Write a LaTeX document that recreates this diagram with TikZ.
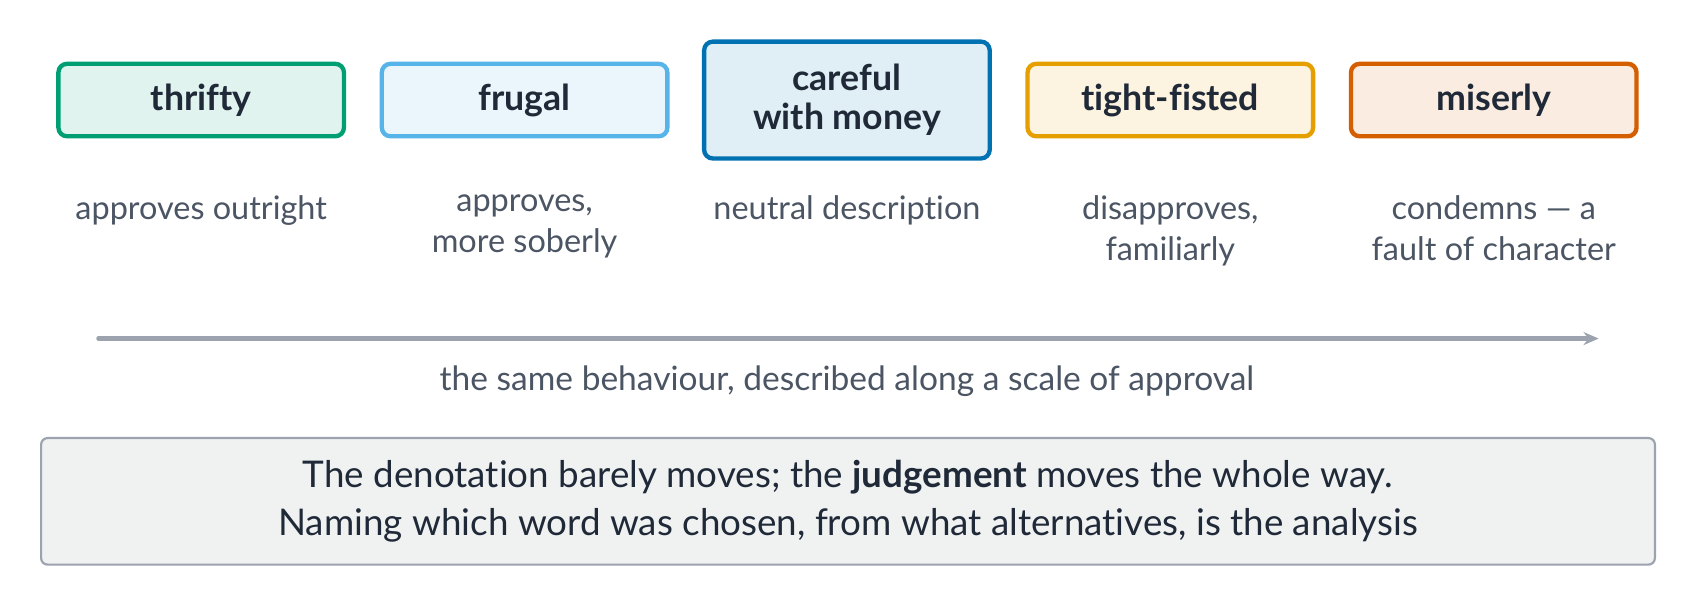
\documentclass[tikz,border=0pt]{standalone}
\usepackage{fontspec}
\setmainfont{Lato}[Ligatures={NoCommon}]
\usetikzlibrary{arrows.meta}
\definecolor{cgreen}{HTML}{009E73}
\definecolor{csky}{HTML}{56B4E9}
\definecolor{cblue}{HTML}{0072B2}
\definecolor{corange}{HTML}{E69F00}
\definecolor{cverm}{HTML}{D55E00}
\definecolor{ink}{HTML}{1F2937}
\definecolor{muted}{HTML}{4B5563}
\definecolor{rule}{HTML}{9CA3AF}
\definecolor{panel}{HTML}{F0F2F2}
\tikzset{
  word/.style={draw=#1, fill=#1!12, line width=2pt, rounded corners=4pt,
    minimum width=132pt, minimum height=33.5pt, align=center, text=ink,
    font=\fontsize{16.5}{18}\selectfont\bfseries, inner sep=0pt},
  note/.style={anchor=north, align=center, text=muted,
    font=\fontsize{15}{19}\selectfont, inner sep=0pt},
  scalearrow/.style={draw=rule, line width=2pt, line cap=round,
    -{Stealth[length=7pt,width=6pt]}},
}
\begin{document}
\begin{tikzpicture}[x=0.5pt,y=-0.5pt]
\useasboundingbox (0,0) rectangle (1568,562);
\node[word=cgreen] (thrifty) at (186,92.5) {thrifty};
\node[word=csky] (frugal) at (485,92.5) {frugal};
\node[word=cblue, minimum height=54pt] (careful) at (783,92.5) {careful\\with money};
\node[word=corange] (tight) at (1082,92.5) {tight-fisted};
\node[word=cverm] (miserly) at (1381,92.5) {miserly};

\node[note] (n1) at (186,180) {approves outright};
\node[note] (n2) at (485,180) {approves,\\more soberly};
\node[note] (n3) at (783,180) {neutral description};
\node[note] (n4) at (1082,180) {disapproves,\\familiarly};
\node[note] (n5) at (1381,180) {condemns — a\\fault of character};

\coordinate (a0) at (91,313);
\coordinate (a1) at (1478,313);
\draw[scalearrow] (a0) -- (a1);
\node[text=muted, font=\fontsize{15.5}{18.5}\selectfont] (cap) at (783,352) {the same behaviour, described along a scale of approval};

\node[draw=rule, fill=panel, line width=1pt, rounded corners=3pt,
  minimum width=746pt, minimum height=58.5pt, align=center, text=ink,
  font=\fontsize{17}{22.5}\selectfont, inner sep=0pt] (sum) at (784,463.5)
  {The denotation barely moves; the \textbf{judgement} moves the whole way.\\Naming which word was chosen, from what alternatives, is the analysis};
\end{tikzpicture}
\end{document}
